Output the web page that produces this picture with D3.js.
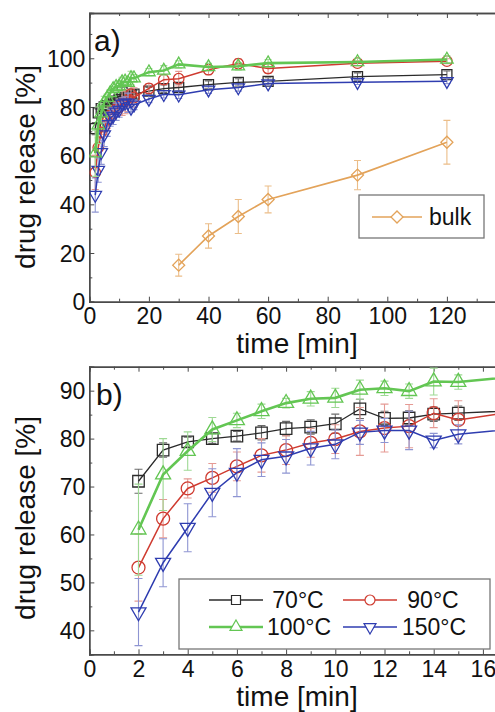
<!DOCTYPE html>
<html><head><meta charset="utf-8">
<script src="https://cdn.jsdelivr.net/npm/d3@7"></script>
<style>
html,body{margin:0;padding:0;background:#fff;}
svg{display:block;font-family:"Liberation Sans",Arial,Helvetica,sans-serif;}
</style></head>
<body><svg id="chart" width="495" height="712"></svg>
<script>
// ---------- data ----------
const times = [2,3,4,5,6,7,8,9,10,11,12,13,14,15,20,25,30,40,50,60,90,120];
const r70  = [71.1,77.6,79.3,80.0,80.5,81.2,82.1,82.4,83.1,86.2,84.2,84.3,85.1,85.3,86.5,87.5,88.0,89.2,90.1,90.5,92.5,93.3];
const e70  = [2.5,1.5,1.0,1.0,1.0,1.5,1.5,1.5,2.0,2.0,1.5,1.5,1.5,1.5,1.5,1.5,1.5,1.5,1.5,1.5,1.5,1.5];
const r90  = [53.1,63.3,69.6,71.8,74.2,76.5,77.6,79.1,79.9,81.5,82.2,82.6,85.3,83.9,87.6,91.2,91.6,95.3,97.8,95.8,98.0,98.8];
const e90  = [7.0,4.0,2.0,3.0,3.0,3.5,3.0,3.0,3.0,5.0,5.0,4.5,3.0,4.0,2.0,2.0,3.0,2.0,2.0,2.0,1.0,1.0];
const r100 = [61.0,72.5,77.4,81.9,83.8,85.7,87.4,88.3,88.5,90.2,90.5,89.9,91.9,91.8,94.3,95.0,97.5,96.4,96.7,98.0,98.5,99.5];
const e100 = [9.5,7.5,4.0,2.5,1.5,1.5,1.0,1.5,2.0,2.0,1.5,1.5,2.8,1.5,1.5,2.0,1.5,1.5,1.5,1.5,1.5,1.5];
const r150 = [43.8,54.1,61.4,68.7,72.9,75.6,76.3,78.0,78.8,81.3,81.7,81.7,79.6,80.9,83.3,85.2,85.0,87.1,88.0,89.6,90.2,90.6];
const e150 = [7.0,5.0,5.0,5.0,5.0,3.5,3.5,3.5,3.0,2.5,2.5,4.0,1.5,2.0,1.5,1.5,1.5,1.5,1.5,1.0,1.0,1.0];
const bulkTimes = [30,40,50,60,90,120];
const bulkVals  = [15,27,35,42,52,65.5];
const bulkErr   = [4.5,5,7,5.5,6,9];
const labels = ["70°C","90°C","100°C","150°C"];
const bulkLabel = "bulk";
const xTicksA = [0,20,40,60,80,100,120];
const yTicksA = [0,20,40,60,80,100];
const xTicksB = [0,2,4,6,8,10,12,14,16];
const yTicksB = [40,50,60,70,80,90];

// ---------- styles ----------
const series = [
  {name:labels[0], vals:r70,  errs:e70,  color:"#2b2b2b", ecol:"#6a6a6a", sym:"square", lw:1.3},
  {name:labels[1], vals:r90,  errs:e90,  color:"#cf3b30", ecol:"#e59a94", sym:"circle", lw:1.5},
  {name:labels[2], vals:r100, errs:e100, color:"#63c653", ecol:"#9ed994", sym:"up",     lw:2.6},
  {name:labels[3], vals:r150, errs:e150, color:"#2f3db0", ecol:"#8e95d2", sym:"down",   lw:1.5}
];
const bulkColor = "#e3a35a", bulkECol = "#ebbd88";

const svg = d3.select("#chart");
const FONT_TICK = 23, FONT_TITLE = 28;

function symPath(sym, s){
  if (sym==="square") return d3.symbol(d3.symbolSquare, s*s)();
  if (sym==="circle") return d3.symbol(d3.symbolCircle, Math.PI*(s/2)*(s/2))();
  if (sym==="diamond") return d3.symbol(d3.symbolSquare, s*s/2)();
  const h = s*Math.sqrt(3)/2;
  if (sym==="up") return `M0,${-2*h/3}L${s/2},${h/3}L${-s/2},${h/3}Z`;
  return `M0,${2*h/3}L${s/2},${-h/3}L${-s/2},${-h/3}Z`;
}

function drawPanel(cfg){
  const {x, y, xMaj, xMin, yMaj, yMin, id} = cfg;
  const g = svg.append("g");
  const [x0,x1] = x.range(), [y0,y1] = y.range(); // y0 bottom, y1 top
  g.append("clipPath").attr("id","clip"+id).append("rect")
    .attr("x",x0).attr("y",y1).attr("width",x1-x0).attr("height",y0-y1);
  // axes
  const frame = "#4a4a4a";
  const left = g.append("g").attr("transform",`translate(${x0},0)`)
    .call(d3.axisLeft(y).tickValues(yMaj).tickSize(-5).tickPadding(4).tickFormat(d3.format("d")));
  g.append("g").attr("transform",`translate(${x0},0)`)
    .call(d3.axisLeft(y).tickValues(yMin).tickSize(-3).tickFormat(""));
  const bottom = g.append("g").attr("transform",`translate(0,${y0})`)
    .call(d3.axisBottom(x).tickValues(xMaj).tickSize(-5).tickPadding(6).tickFormat(d3.format("d")));
  g.append("g").attr("transform",`translate(0,${y0})`)
    .call(d3.axisBottom(x).tickValues(xMin).tickSize(-3).tickFormat(""));
  g.append("g").attr("transform",`translate(0,${y1})`)
    .call(d3.axisTop(x).tickValues(xMaj).tickSize(-5).tickFormat(""));
  g.append("g").attr("transform",`translate(0,${y1})`)
    .call(d3.axisTop(x).tickValues(xMin).tickSize(-3).tickFormat(""));
  g.selectAll(".domain").attr("stroke",frame).attr("stroke-width",1.4);
  g.selectAll(".tick line").attr("stroke",frame).attr("stroke-width",1);
  g.selectAll(".tick text").attr("font-size",FONT_TICK).attr("fill","#111")
    .attr("font-family","Liberation Sans, Arial, sans-serif");
  left.selectAll(".tick text").attr("dy","0.36em");
  bottom.selectAll(".tick text").attr("dy","0.72em");
  return g.append("g").attr("clip-path",`url(#clip${id})`);
}

function drawSeries(layer, x, y, tVals, s, msize, capw){
  const pts = tVals.map((t,i)=>({t, v:s.vals[i], e:s.errs[i]}));
  const eg = layer.append("g").attr("stroke",s.ecol).attr("stroke-width",1.1).attr("fill","none");
  pts.forEach(p=>{
    eg.append("line").attr("x1",x(p.t)).attr("x2",x(p.t)).attr("y1",y(p.v-p.e)).attr("y2",y(p.v+p.e));
    [p.v-p.e,p.v+p.e].forEach(v=>eg.append("line").attr("x1",x(p.t)-capw).attr("x2",x(p.t)+capw).attr("y1",y(v)).attr("y2",y(v)));
  });
  layer.append("path").datum(pts)
    .attr("d",d3.line().x(p=>x(p.t)).y(p=>y(p.v)))
    .attr("fill","none").attr("stroke",s.color).attr("stroke-width",s.lw);
  layer.append("g").selectAll("path").data(pts).join("path")
    .attr("transform",p=>`translate(${x(p.t)},${y(p.v)})${s.sym==="diamond"?" rotate(45)":""}`)
    .attr("d",symPath(s.sym,msize)).attr("fill","none")
    .attr("stroke",s.color).attr("stroke-width",1.3);
}

// ---------- panel a ----------
const xa = d3.scaleLinear().domain([0,140]).range([89.3, 89.3+2.98*140]);
const ya = d3.scaleLinear().domain([0,118.6]).range([301.7, 13]);
const la = drawPanel({x:xa, y:ya, id:"a",
  xMaj:xTicksA, xMin:d3.range(10,140,20), yMaj:yTicksA, yMin:d3.range(10,120,20)});
const sizesA = {square:10, circle:10.5, up:12.5, down:12.5};
[series[0],series[1],series[3],series[2]].forEach(s=>drawSeries(la, xa, ya, times, s, sizesA[s.sym], 3.5));
drawSeries(la, xa, ya, bulkTimes, {vals:bulkVals, errs:bulkErr, color:bulkColor, ecol:bulkECol, sym:"diamond", lw:1.6}, 12, 3.5);

// ---------- panel b ----------
const xb = d3.scaleLinear().domain([0,20]).range([89.3, 89.3+24.6*20]);
const yb = d3.scaleLinear().domain([35,95]).range([654.3, 366.7]);
const lb = drawPanel({x:xb, y:yb, id:"b",
  xMaj:xTicksB, xMin:d3.range(1,20,2), yMaj:yTicksB, yMin:d3.range(35,95,10)});
const sizesB = {square:11.5, circle:13, up:15, down:15};
[series[0],series[1],series[3],series[2]].forEach(s=>drawSeries(lb, xb, yb, times, s, sizesB[s.sym], 4));

// ---------- titles ----------
function txt(x,y,t,size,anchor,rot){
  const e = svg.append("text").attr("x",x).attr("y",y).text(t).attr("font-size",size)
    .attr("fill","#111").attr("text-anchor",anchor||"middle");
  if (rot) e.attr("transform",`rotate(${rot},${x},${y})`);
  return e;
}
txt(94, 51, "a)", 30, "start");
txt(96, 405, "b)", 30, "start");
txt(297, 353, "time [min]", FONT_TITLE);
txt(297, 706, "time [min]", FONT_TITLE);
txt(35, 167, "drug release [%]", FONT_TITLE, "middle", -90);
txt(35, 518, "drug release [%]", FONT_TITLE, "middle", -90);

// ---------- legends ----------
const legA = svg.append("g");
legA.append("rect").attr("x",359).attr("y",195).attr("width",125).attr("height",43)
  .attr("fill","#fff").attr("stroke","#777").attr("stroke-width",1.3);
legA.append("line").attr("x1",372).attr("x2",422).attr("y1",217).attr("y2",217)
  .attr("stroke",bulkColor).attr("stroke-width",1.6);
legA.append("path").attr("transform","translate(397,217) rotate(45)").attr("d",symPath("diamond",12))
  .attr("fill","#fff").attr("stroke",bulkColor).attr("stroke-width",1.3);
legA.append("text").attr("x",429).attr("y",225).text(bulkLabel).attr("font-size",FONT_TICK).attr("fill","#111");

const legB = svg.append("g");
legB.append("rect").attr("x",179).attr("y",579).attr("width",311).attr("height",70)
  .attr("fill","#fff").attr("stroke","#777").attr("stroke-width",1.3);
const legPos = [[236,298,600],[370,433,600],[236,299,627],[370,434,627]];
series.forEach((s,i)=>{
  const [mx,tx,ly] = legPos[i];
  legB.append("line").attr("x1",mx-27).attr("x2",mx+27).attr("y1",ly).attr("y2",ly)
    .attr("stroke",s.color).attr("stroke-width",s.lw);
  legB.append("path").attr("transform",`translate(${mx},${ly})`).attr("d",symPath(s.sym, s.sym==="square"?9:(s.sym==="circle"?10:12)))
    .attr("fill","#fff").attr("stroke",s.color).attr("stroke-width",1.2);
  legB.append("text").attr("x",tx).attr("y",ly+8).text(s.name).attr("font-size",FONT_TICK)
    .attr("fill","#111").attr("text-anchor","middle");
});
</script></body></html>
